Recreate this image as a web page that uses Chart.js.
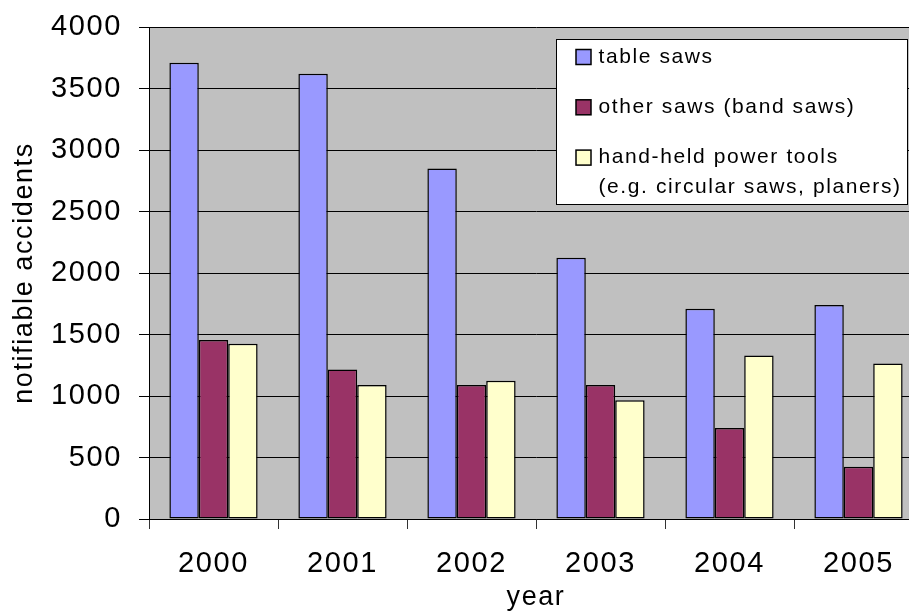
<!DOCTYPE html>
<html>
<head>
<meta charset="utf-8">
<script src="https://cdn.jsdelivr.net/npm/chart.js@4/dist/chart.umd.min.js"></script>
<style>
  html, body { margin: 0; padding: 0; background: #fff; width: 909px; height: 611px; overflow: hidden; }
  #wrap { position: absolute; left: 0; top: 0; width: 930px; height: 611px; }
</style>
</head>
<body>
<div id="wrap"><canvas id="chart" width="930" height="611"></canvas></div>
<script>
// Notifiable accidents by machine type, 2000-2005
const categories = ['2000', '2001', '2002', '2003', '2004', '2005'];
const tableSaws = [3710, 3620, 2850, 2125, 1710, 1740];
const otherSaws = [1455, 1215, 1090, 1090, 740, 425];
const handHeldTools = [1425, 1090, 1125, 965, 1330, 1265];
const seriesLabels = [
  ['table saws'],
  ['other saws (band saws)'],
  ['hand-held power tools', '(e.g. circular saws, planers)']
];
const seriesColors = ['#9999FF', '#993366', '#FFFFCC'];
const yTicks = [0, 500, 1000, 1500, 2000, 2500, 3000, 3500, 4000];
const xTitle = 'year';
const yTitle = 'notifiable accidents';

const FONT = "'Liberation Sans', Arial, sans-serif";
const SPACING = '1.6px';

// wide, slightly tracked lettering for every text on the canvas
const tracking = {
  id: 'tracking',
  beforeUpdate(chart) { chart.ctx.letterSpacing = SPACING; },
  beforeLayout(chart) { chart.ctx.letterSpacing = SPACING; },
  beforeDraw(chart) { chart.ctx.letterSpacing = SPACING; }
};

// grey plot background
const plotBackground = {
  id: 'plotBackground',
  beforeDraw(chart) {
    const { ctx, chartArea: a } = chart;
    ctx.save();
    ctx.fillStyle = '#C0C0C0';
    ctx.fillRect(a.left, a.top, a.right - a.left, a.bottom - a.top);
    ctx.restore();
  }
};

// boxed legend inside the top-right corner of the plot
const boxedLegend = {
  id: 'boxedLegend',
  afterDraw(chart) {
    const { ctx, chartArea: a } = chart;
    const x0 = a.left + 407.5, y0 = a.top + 12.5, w = 351, h = 165;
    ctx.save();
    ctx.letterSpacing = SPACING;
    ctx.fillStyle = '#fff';
    ctx.fillRect(x0, y0, w, h);
    ctx.strokeStyle = '#000';
    ctx.lineWidth = 1;
    ctx.strokeRect(x0, y0, w, h);
    ctx.font = '21px ' + FONT;
    ctx.textBaseline = 'alphabetic';
    ctx.textAlign = 'left';
    chart.data.datasets.forEach((ds, i) => {
      const base = y0 + 23 + i * 50.3;
      ctx.fillStyle = ds.backgroundColor;
      ctx.fillRect(x0 + 19.5, base - 13, 15, 15);
      ctx.lineWidth = 1.5;
      ctx.strokeStyle = '#000';
      ctx.strokeRect(x0 + 19.5, base - 13, 15, 15);
      ctx.fillStyle = '#000';
      seriesLabels[i].forEach((line, j) => {
        ctx.fillText(line, x0 + 42, base + j * 30);
      });
    });
    ctx.restore();
  }
};

const makeSet = (i, values) => ({
  label: seriesLabels[i].join(' '),
  data: values,
  backgroundColor: seriesColors[i],
  borderColor: '#000',
  borderWidth: 1.5,
  borderSkipped: false,
  categoryPercentage: 0.684,
  barPercentage: 1.0
});

new Chart(document.getElementById('chart'), {
  type: 'bar',
  data: {
    labels: categories,
    datasets: [
      makeSet(0, tableSaws),
      makeSet(1, otherSaws),
      makeSet(2, handHeldTools)
    ]
  },
  options: {
    responsive: false,
    animation: false,
    devicePixelRatio: 1,
    layout: { padding: { top: 27, right: 7, left: 0, bottom: 0 } },
    plugins: {
      legend: { display: false },
      tooltip: { enabled: false }
    },
    scales: {
      x: {
        afterFit(scale) {
          scale.height = 92;
          scale.paddingLeft = 0;
          scale.paddingRight = 0;
        },
        grid: {
          display: true,
          offset: true,
          drawOnChartArea: false,
          drawTicks: true,
          tickLength: 10,
          tickColor: '#333',
          color: '#333'
        },
        border: { display: true, color: '#000', width: 1 },
        ticks: {
          color: '#000',
          font: { family: FONT, size: 29 },
          padding: 18,
          maxRotation: 0,
          autoSkip: false
        },
        title: {
          display: true,
          text: xTitle,
          color: '#000',
          font: { family: FONT, size: 27, lineHeight: 1 },
          padding: 0
        }
      },
      y: {
        min: 0,
        max: 4000,
        afterFit(scale) {
          scale.width = 149;
          scale.paddingTop = 0;
          scale.paddingBottom = 0;
        },
        afterBuildTicks(scale) { scale.ticks = yTicks.map(v => ({ value: v })); },
        grid: {
          color: '#000',
          lineWidth: 1,
          drawTicks: true,
          tickLength: 10,
          tickColor: '#000'
        },
        border: { display: true, color: '#000', width: 1 },
        ticks: {
          color: '#000',
          font: { family: FONT, size: 29 },
          padding: 17,
          callback: (v) => String(v)
        },
        title: {
          display: true,
          text: yTitle,
          color: '#000',
          font: { family: FONT, size: 27, lineHeight: 1.2 },
          padding: { top: 8, bottom: 0 }
        }
      }
    }
  },
  plugins: [tracking, plotBackground, boxedLegend]
});
</script>
</body>
</html>
